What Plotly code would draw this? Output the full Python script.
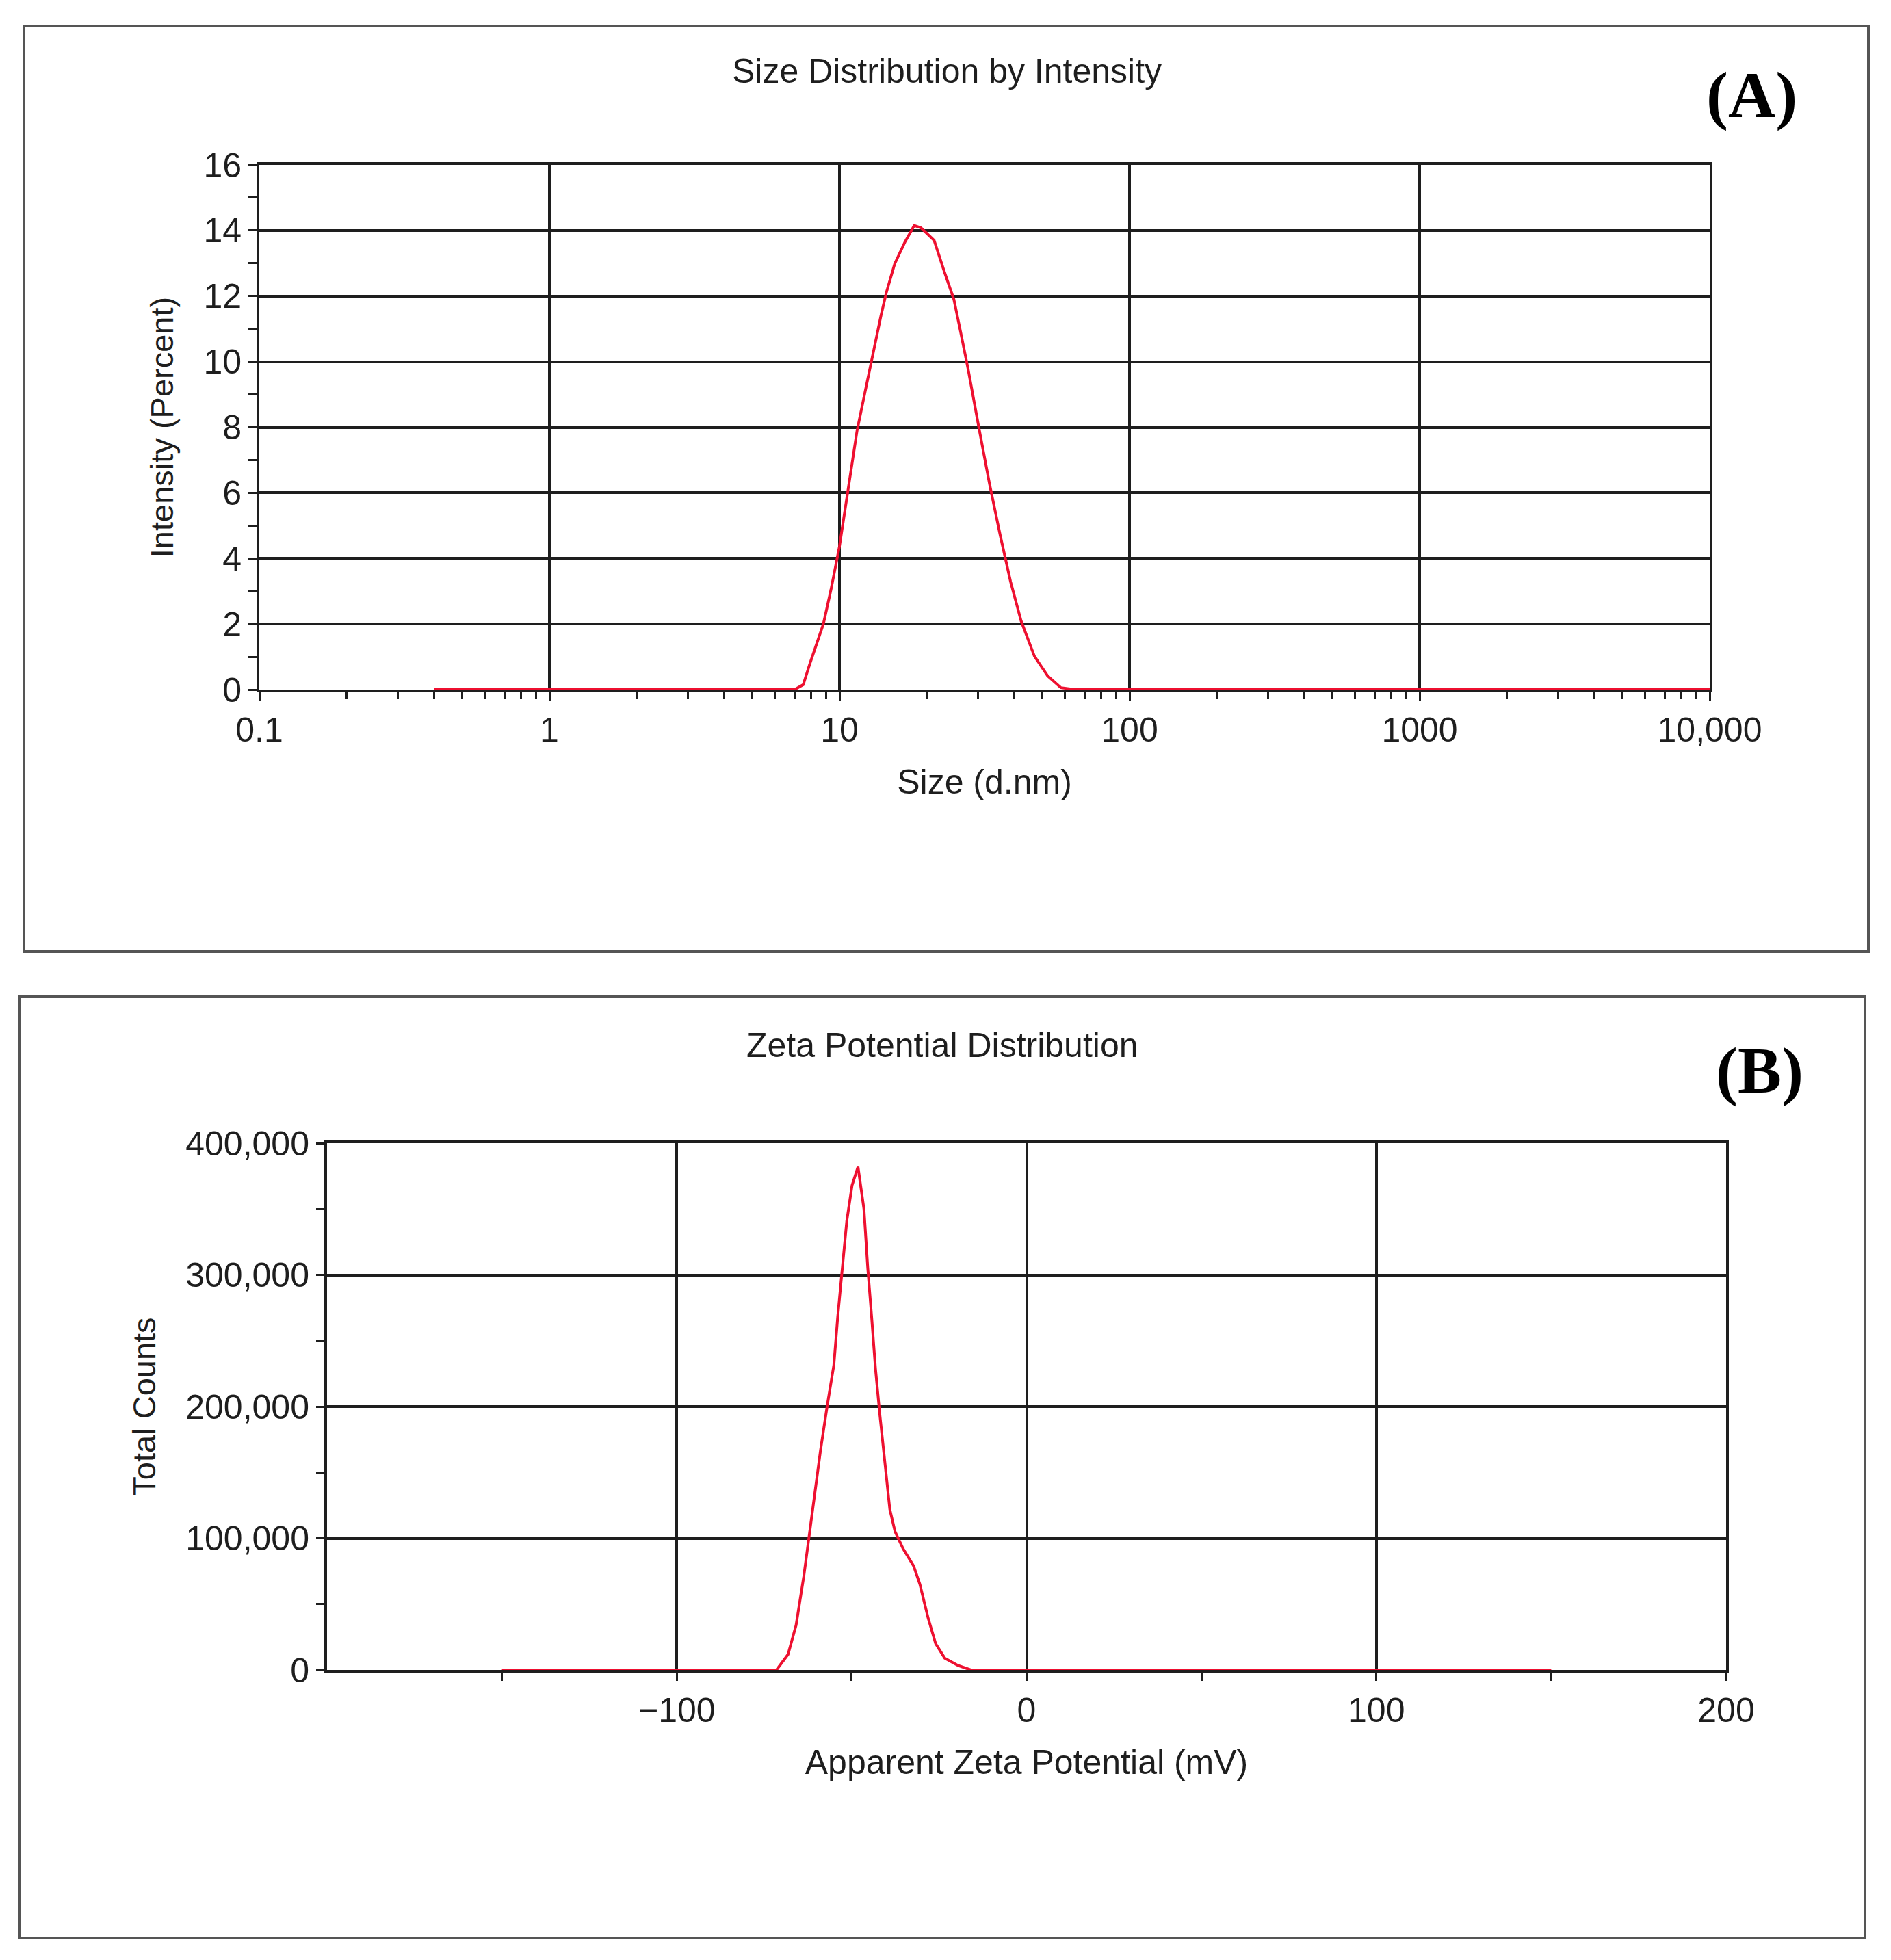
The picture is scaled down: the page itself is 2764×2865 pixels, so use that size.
import plotly.graph_objects as go

W, H = 2764, 2865

# ── Data ──────────────────────────────────────────────────
# (A) size distribution by intensity
size_nm = [0.4, 0.5, 0.6, 0.8, 1.0, 1.5, 2, 3, 4, 5, 6, 7, 7.5, 7.9, 8.8,
           9.35, 10, 10.6, 11.5, 12.3, 13.1, 13.9, 14.5, 15.5, 16.8, 18.1,
           19.1, 21.2, 23.0, 24.8, 26.1, 27.8, 30.3, 32.9, 35.8, 38.9, 42.3,
           47.0, 52.2, 58.0, 65, 80, 100, 200, 500, 1000, 2000, 5000, 10000]
intensity_pct = [0, 0, 0, 0, 0, 0, 0, 0, 0, 0, 0, 0, 0.15, 0.78, 2.0,
                 3.05, 4.37, 5.8, 7.9, 9.15, 10.35, 11.4, 12.1, 12.98, 13.64, 14.15,
                 14.08, 13.7, 12.74, 11.9, 10.95, 9.75, 7.95, 6.28, 4.72, 3.29, 2.09,
                 1.02, 0.42, 0.06, 0, 0, 0, 0, 0, 0, 0, 0, 0]
size_ticks = [0.1, 1, 10, 100, 1000, 10000]
size_ticktext = ["0.1", "1", "10", "100", "1000", "10,000"]

# (B) zeta potential distribution
zeta_mv = [-150, -100, -75, -71.5, -68.2, -65.9, -63.7, -62.2, -60.7, -58.9,
           -57.0, -55.1, -54.0, -52.9, -51.4, -49.9, -48.2, -46.5, -45.4, -44.3,
           -43.2, -42.0, -40.9, -39.1, -37.6, -35.3, -32.3, -30.5, -28.2, -26.0,
           -23.4, -19.6, -15.9, -10, 0, 50, 100, 150]
total_counts = [0, 0, 0, 0, 11800, 34000, 71000, 100600, 133000, 167000,
                200600, 231500, 268000, 300000, 341000, 368000, 382000, 350000, 305000, 268000,
                228700, 195000, 167000, 122000, 105000, 92000, 79000, 65000, 40000, 20000,
                9000, 3400, 0, 0, 0, 0, 0, 0]
zeta_ticks = [-100, 0, 100, 200]
zeta_minor = [-150, -50, 50, 150]
count_ticks = [0, 100000, 200000, 300000, 400000]

# page offset of the plot div (body margin)
OFF = 6


def px(x):
    return (x - OFF) / W


def py(y):
    return 1 - (y - OFF) / H


FONT = "Liberation Sans, Arial, sans-serif"
TXT = "#1e1e1e"
RED = "#ee1030"
GRID = "#1e1e1e"

fig = go.Figure()

fig.add_trace(go.Scatter(
    x=size_nm, y=intensity_pct, mode="lines",
    line=dict(color=RED, width=4),
    xaxis="x", yaxis="y", showlegend=False))
fig.add_trace(go.Scatter(
    x=zeta_mv, y=total_counts, mode="lines",
    line=dict(color=RED, width=4),
    xaxis="x2", yaxis="y2", showlegend=False))

axis_common = dict(
    showline=True, linecolor=GRID, linewidth=4, mirror=True,
    showgrid=True, gridcolor=GRID, gridwidth=4,
    ticks="outside", ticklen=12, tickwidth=3, tickcolor=GRID,
    tickfont=dict(family=FONT, size=50, color=TXT),
    zeroline=False, automargin=False,
)

fig.update_layout(
    width=W, height=H,
    margin=dict(l=0, r=0, t=0, b=0, autoexpand=False),
    paper_bgcolor="white", plot_bgcolor="white",
    xaxis=dict(
        axis_common, type="log", range=[-1, 4],
        domain=[px(377), px(2497)], anchor="y",
        tickmode="array", tickvals=size_ticks, ticktext=size_ticktext,
        minor=dict(tickmode="linear", dtick="D1", ticks="outside",
                   ticklen=10, tickwidth=3, tickcolor=GRID, showgrid=False),
        title=dict(text="Size (d.nm)", standoff=32,
                   font=dict(family=FONT, size=50, color=TXT)),
    ),
    yaxis=dict(
        axis_common, range=[0, 16],
        domain=[py(1006), py(239)], anchor="x",
        tickmode="linear", dtick=2,
        minor=dict(dtick=1, ticks="outside", ticklen=12, tickwidth=3,
                   tickcolor=GRID, showgrid=False),
        title=dict(text="Intensity (Percent)", standoff=30,
                   font=dict(family=FONT, size=47, color=TXT)),
    ),
    xaxis2=dict(
        axis_common, range=[-200, 200],
        domain=[px(476), px(2521)], anchor="y2",
        tickmode="array", tickvals=zeta_ticks,
        minor=dict(tickvals=zeta_minor, ticks="outside", ticklen=12,
                   tickwidth=3, tickcolor=GRID, showgrid=False),
        title=dict(text="Apparent Zeta Potential (mV)", standoff=32,
                   font=dict(family=FONT, size=50, color=TXT)),
    ),
    yaxis2=dict(
        axis_common, range=[0, 400000],
        domain=[py(2439), py(1669)], anchor="x2",
        tickmode="array", tickvals=count_ticks, tickformat=",d",
        minor=dict(dtick=50000, ticks="outside", ticklen=12, tickwidth=3,
                   tickcolor=GRID, showgrid=False),
        title=dict(text="Total Counts", standoff=30,
                   font=dict(family=FONT, size=47, color=TXT)),
    ),
)

# panel frames
for x0, y0, x1, y1 in [(33, 36, 2729, 1389), (26, 1455, 2724, 2831)]:
    fig.add_shape(type="rect", xref="paper", yref="paper",
                  x0=px(x0), x1=px(x1), y0=py(y1), y1=py(y0),
                  line=dict(color="#555555", width=4), layer="below")

# panel titles and letters
labels = [
    (1382, 102, "Size Distribution by Intensity", FONT, 50, TXT),
    (1375, 1526, "Zeta Potential Distribution", FONT, 50, TXT),
    (2558, 137, "<b>(A)</b>", "Liberation Serif, Times New Roman, serif", 96, "black"),
    (2570, 1562, "<b>(B)</b>", "Liberation Serif, Times New Roman, serif", 96, "black"),
]
for x, y, text, fam, size, col in labels:
    fig.add_annotation(x=px(x), y=py(y), xref="paper", yref="paper",
                       xanchor="center", yanchor="middle",
                       text=text, showarrow=False,
                       font=dict(family=fam, size=size, color=col))

fig.write_html("out.html")
